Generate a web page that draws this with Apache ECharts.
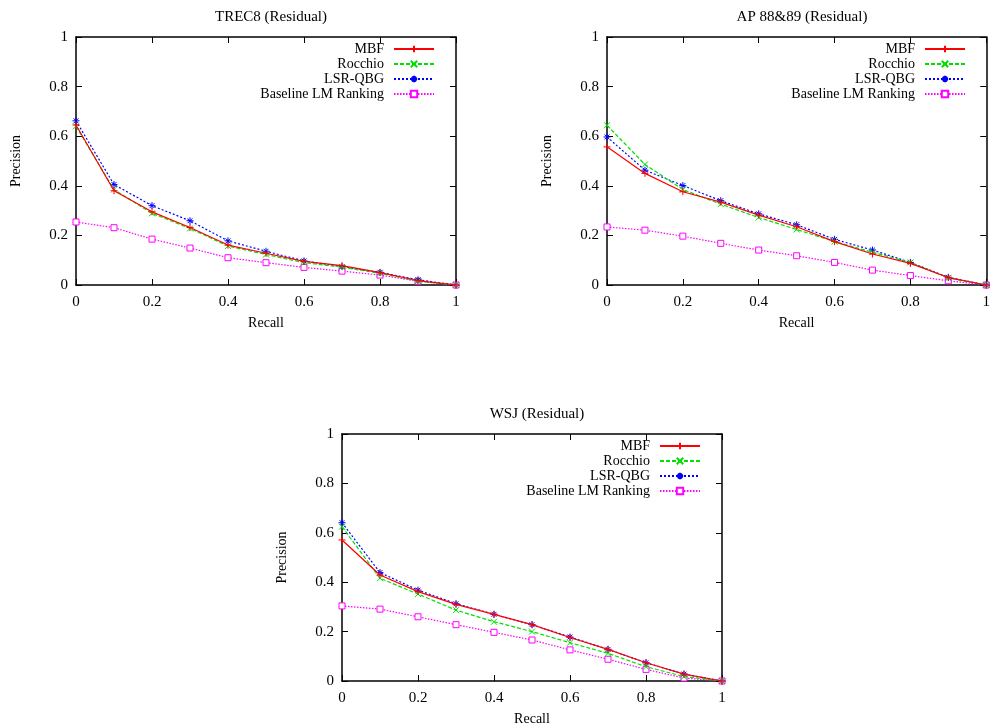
<!DOCTYPE html>
<html>
<head>
<meta charset="utf-8">
<script src="https://cdn.jsdelivr.net/npm/echarts@6/dist/echarts.min.js"></script>
<style>
html, body { margin: 0; padding: 0; background: #fff; }
#container { width: 993px; height: 728px; }
</style>
</head>
<body>
<div id="container"></div>
<script>
var chart = echarts.init(document.getElementById('container'));
var font = 'Liberation Serif';

// recall levels (x)
var recall = [0, 0.1, 0.2, 0.3, 0.4, 0.5, 0.6, 0.7, 0.8, 0.9, 1];
var seriesNames = ['MBF', 'Rocchio', 'LSR-QBG', 'Baseline LM Ranking'];
var titles = ['TREC8 (Residual)', 'AP 88&89 (Residual)', 'WSJ (Residual)'];

// TREC8
var trecMBF      = [0.645, 0.38, 0.295, 0.232, 0.161, 0.128, 0.095, 0.078, 0.05, 0.018, 0];
var trecRocchio  = [0.64, 0.385, 0.289, 0.228, 0.157, 0.123, 0.09, 0.072, 0.047, 0.016, 0];
var trecLSR      = [0.662, 0.405, 0.32, 0.259, 0.178, 0.136, 0.097, 0.074, 0.051, 0.021, 0];
var trecBaseline = [0.254, 0.231, 0.185, 0.149, 0.11, 0.09, 0.071, 0.056, 0.04, 0.015, 0];

// AP 88&89
var apMBF      = [0.557, 0.45, 0.376, 0.334, 0.282, 0.235, 0.175, 0.125, 0.087, 0.03, 0];
var apRocchio  = [0.644, 0.486, 0.385, 0.326, 0.272, 0.224, 0.175, 0.132, 0.091, 0.028, 0];
var apLSR      = [0.597, 0.463, 0.401, 0.34, 0.287, 0.243, 0.184, 0.141, 0.091, 0.031, 0];
var apBaseline = [0.234, 0.221, 0.197, 0.168, 0.141, 0.118, 0.091, 0.06, 0.038, 0.017, 0];

// WSJ
var wsjMBF      = [0.571, 0.429, 0.362, 0.31, 0.27, 0.228, 0.176, 0.128, 0.074, 0.028, 0];
var wsjRocchio  = [0.625, 0.416, 0.352, 0.287, 0.24, 0.2, 0.155, 0.112, 0.058, 0.018, 0];
var wsjLSR      = [0.641, 0.439, 0.368, 0.313, 0.27, 0.228, 0.178, 0.128, 0.074, 0.028, 0];
var wsjBaseline = [0.304, 0.291, 0.26, 0.228, 0.197, 0.166, 0.126, 0.088, 0.047, 0.012, 0];

var panels = [
    [trecMBF, trecRocchio, trecLSR, trecBaseline],
    [apMBF, apRocchio, apLSR, apBaseline],
    [wsjMBF, wsjRocchio, wsjLSR, wsjBaseline]
];

// plot boxes (left, top, width, height)
var boxes = [
    [76, 37, 380, 248],
    [607, 37, 380, 248],
    [342, 434, 380, 247]
];

var plusPath = 'path://M5,0L5,10M0,5L10,5';
var crossPath = 'path://M0,0L10,10M10,0L0,10';
var starPath = 'path://M5,0L5,10M0,5L10,5M1.5,1.5L8.5,8.5M8.5,1.5L1.5,8.5';

var styles = [
    { color: '#ff0000', fill: '#ff0000', type: 'solid', symbol: plusPath, size: 7 },
    { color: '#00e000', fill: '#00e000', type: [4, 2], symbol: crossPath, size: 6 },
    { color: '#0000ff', fill: '#0000ff', type: [2, 2], symbol: starPath, size: 7 },
    { color: '#ff00ff', fill: '#ffffff', type: [1.5, 1.5], symbol: 'rect', size: 6 }
];

var grid = [], xAxis = [], yAxis = [], title = [], legend = [], series = [];

boxes.forEach(function (b, i) {
    grid.push({ left: b[0], top: b[1], width: b[2], height: b[3] });
    title.push({
        text: titles[i],
        left: b[0] + b[2] / 2,
        top: b[1] - 32,
        textAlign: 'center',
        textStyle: { fontFamily: font, fontSize: 15, fontWeight: 'normal', color: '#000' }
    });
    legend.push({
        orient: 'vertical',
        align: 'right',
        right: 993 - (b[0] + b[2] - 16),
        top: b[1],
        itemWidth: 40,
        itemHeight: 8,
        itemGap: 1,
        data: seriesNames,
        textStyle: { fontFamily: font, fontSize: 14, color: '#000', width: 160, align: 'right', padding: [0, 5, 0, 0] }
    });
    var axisCommon = {
        type: 'value', min: 0, max: 1, interval: 0.2, gridIndex: i,
        axisLine: { onZero: false, lineStyle: { color: '#000', width: 1.5 } },
        axisTick: { inside: true, length: 6, lineStyle: { color: '#000' } },
        splitLine: { show: false }
    };
    xAxis.push(Object.assign({}, axisCommon, {
        position: 'bottom',
        name: 'Recall', nameLocation: 'middle', nameGap: 31,
        nameTextStyle: { fontFamily: font, fontSize: 14, color: '#000' },
        axisLabel: { fontFamily: font, fontSize: 15, color: '#000', margin: 10 }
    }));
    xAxis.push(Object.assign({}, axisCommon, { position: 'top', axisLabel: { show: false } }));
    yAxis.push(Object.assign({}, axisCommon, {
        position: 'left',
        name: 'Precision', nameLocation: 'middle', nameGap: 53,
        nameTextStyle: { fontFamily: font, fontSize: 14, color: '#000' },
        axisLabel: { fontFamily: font, fontSize: 15, color: '#000', margin: 8 }
    }));
    yAxis.push(Object.assign({}, axisCommon, { position: 'right', axisLabel: { show: false } }));

    panels[i].forEach(function (vals, k) {
        var s = styles[k];
        series.push({
            name: seriesNames[k],
            type: 'line',
            xAxisIndex: i * 2,
            yAxisIndex: i * 2,
            data: recall.map(function (r, j) { return [r, vals[j]]; }),
            symbol: s.symbol,
            symbolSize: s.size,
            showAllSymbol: true,
            animation: false,
            lineStyle: { color: s.color, width: 1.2, type: s.type },
            itemStyle: { color: s.fill, borderColor: s.color, borderWidth: 1 },
            z: 10 - k
        });
    });
});

var option = {
    backgroundColor: '#fff',
    animation: false,
    title: title,
    legend: legend,
    grid: grid,
    xAxis: xAxis,
    yAxis: yAxis,
    series: series
};
chart.setOption(option);
</script>
</body>
</html>
